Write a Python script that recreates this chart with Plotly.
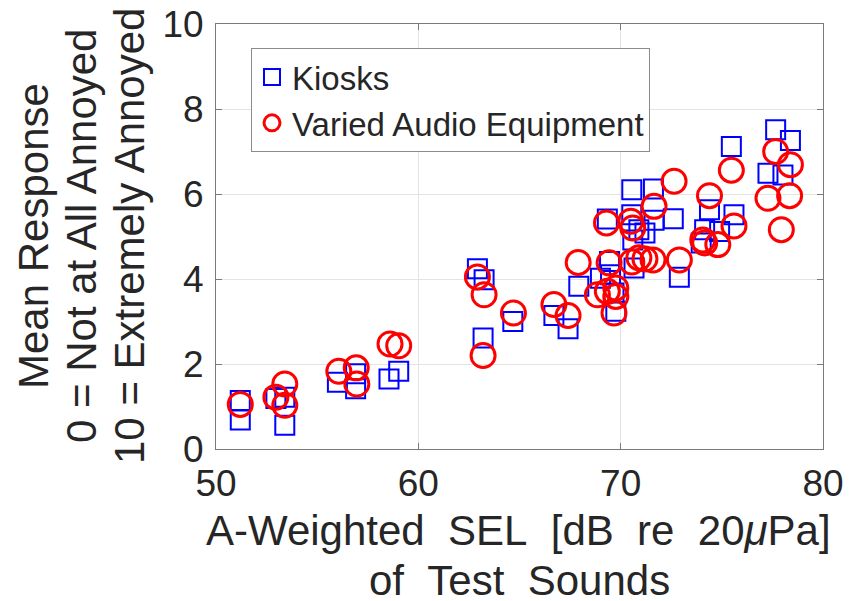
import plotly.graph_objects as go

# ---- data ----
kiosk_sel = [51.2, 51.2, 52.96, 53.4, 53.4, 56.0, 56.9, 56.9, 58.55, 59.03,
             62.92, 63.25, 63.2, 64.67, 66.7, 67.4, 67.93, 69.0, 69.45, 69.5,
             69.67, 69.76, 69.34, 70.55, 71.62, 70.55, 71.65, 70.9, 71.2, 70.6,
             70.66, 72.6, 72.9, 74.39, 74.15, 74.89, 73.98, 75.6, 75.47, 77.28,
             78.02, 77.66, 78.39]
kiosk_resp = [1.14, 0.68, 1.19, 1.22, 0.56, 1.57, 1.77, 1.42, 1.65, 1.83,
              4.24, 3.98, 2.61, 3.0, 3.14, 2.83, 3.83, 4.02, 4.41, 4.1,
              3.67, 3.24, 5.41, 6.1, 6.12, 5.51, 5.38, 5.16, 5.08, 4.92,
              4.26, 5.42, 4.04, 5.63, 5.16, 5.12, 4.85, 5.51, 7.12, 6.49,
              6.45, 7.51, 7.26]

varied_sel = [51.2, 52.96, 53.4, 53.4, 56.07, 56.93, 56.96, 58.6, 59.03,
              62.92, 63.25, 63.2, 64.7, 66.7, 67.4, 67.9, 68.85, 69.34, 69.43,
              69.3, 69.76, 69.76, 69.67, 70.5, 70.6, 70.55, 70.9, 71.2, 71.6,
              71.65, 72.64, 72.9, 74.06, 74.15, 74.39, 74.8, 75.47, 75.6, 77.28,
              77.66, 77.94, 78.39, 78.35]
varied_resp = [1.05, 1.22, 1.53, 1.03, 1.83, 1.91, 1.53, 2.47, 2.43,
               4.05, 3.63, 2.2, 3.2, 3.4, 3.14, 4.39, 3.63, 3.71, 4.38,
               5.32, 3.79, 3.59, 3.2, 5.36, 5.2, 4.4, 4.5, 4.47, 4.45,
               5.71, 6.3, 4.45, 4.92, 4.85, 5.96, 4.81, 6.56, 5.25, 5.9,
               7.0, 5.16, 6.69, 5.96]

x_ticks = [50, 60, 70, 80]
y_ticks = [0, 2, 4, 6, 8, 10]

SANS = "Liberation Sans, Arial, sans-serif"
TXT = "#262626"
AX = "#7a7a7a"

fig = go.Figure()
fig.add_trace(go.Scatter(
    x=kiosk_sel, y=kiosk_resp, mode="markers", name="Kiosks",
    marker=dict(symbol="square-open", size=19, color="#0000ff",
                line=dict(width=2, color="#0000ff"))))
fig.add_trace(go.Scatter(
    x=varied_sel, y=varied_resp, mode="markers", name="Varied Audio Equipment",
    marker=dict(symbol="circle-open", size=24, color="#ff0000",
                line=dict(width=3, color="#ff0000"))))

axis_common = dict(showline=True, linecolor=AX, linewidth=1, mirror="ticks",
                   ticks="inside", ticklen=6, tickcolor=AX, showgrid=True,
                   gridcolor="#e3e3e3", gridwidth=1, zeroline=False,
                   automargin=False, ticklabeloverflow="allow",
                   tickfont=dict(family=SANS, size=37, color=TXT))
fig.update_xaxes(range=[50, 80], tickvals=x_ticks, ticklabelstandoff=2, **axis_common)
fig.update_yaxes(range=[0, 10], tickvals=y_ticks, ticklabelstandoff=4, **axis_common)

# page body offsets the figure by 8 px; positions below are screen pixels
OFF = 8
L, R, T, B = 208, 37, 16, 160
W, H = 852, 601
pw, ph = W - L - R, H - T - B


def px(xs):
    return (xs - OFF - L) / pw


def py(ys):
    return (H - B - (ys - OFF)) / ph


ann = []
ann.append(dict(text="A-Weighted&#160;&#160;SEL&#160;&#160;[dB&#160;&#160;re&#160;&#160;20<i>μ</i>Pa]",
                x=px(518), y=py(530), xref="paper", yref="paper", showarrow=False,
                xanchor="center", yanchor="middle",
                font=dict(family=SANS, size=42, color=TXT)))
ann.append(dict(text="of&#160;&#160;Test&#160;&#160;Sounds",
                x=px(519), y=py(580), xref="paper", yref="paper", showarrow=False,
                xanchor="center", yanchor="middle",
                font=dict(family=SANS, size=42, color=TXT)))
for txt, xc in [("Mean Response", 34),
                ("0 = Not at All Annoyed", 82),
                ("10 = Extremely Annoyed", 130)]:
    ann.append(dict(text=txt, x=px(xc), y=py(236), xref="paper", yref="paper",
                    showarrow=False, textangle=-90, xanchor="center", yanchor="middle",
                    font=dict(family=SANS, size=42, color=TXT)))

fig.update_layout(
    width=W, height=H, margin=dict(l=L, r=R, t=T, b=B, autoexpand=False),
    paper_bgcolor="white", plot_bgcolor="white",
    showlegend=True,
    legend=dict(x=px(251), y=py(48), xanchor="left", yanchor="top",
                bgcolor="white", bordercolor="#8c8c8c", borderwidth=1,
                font=dict(family=SANS, size=33, color=TXT), tracegroupgap=0),
    annotations=ann,
)

fig.write_html("out.html")
